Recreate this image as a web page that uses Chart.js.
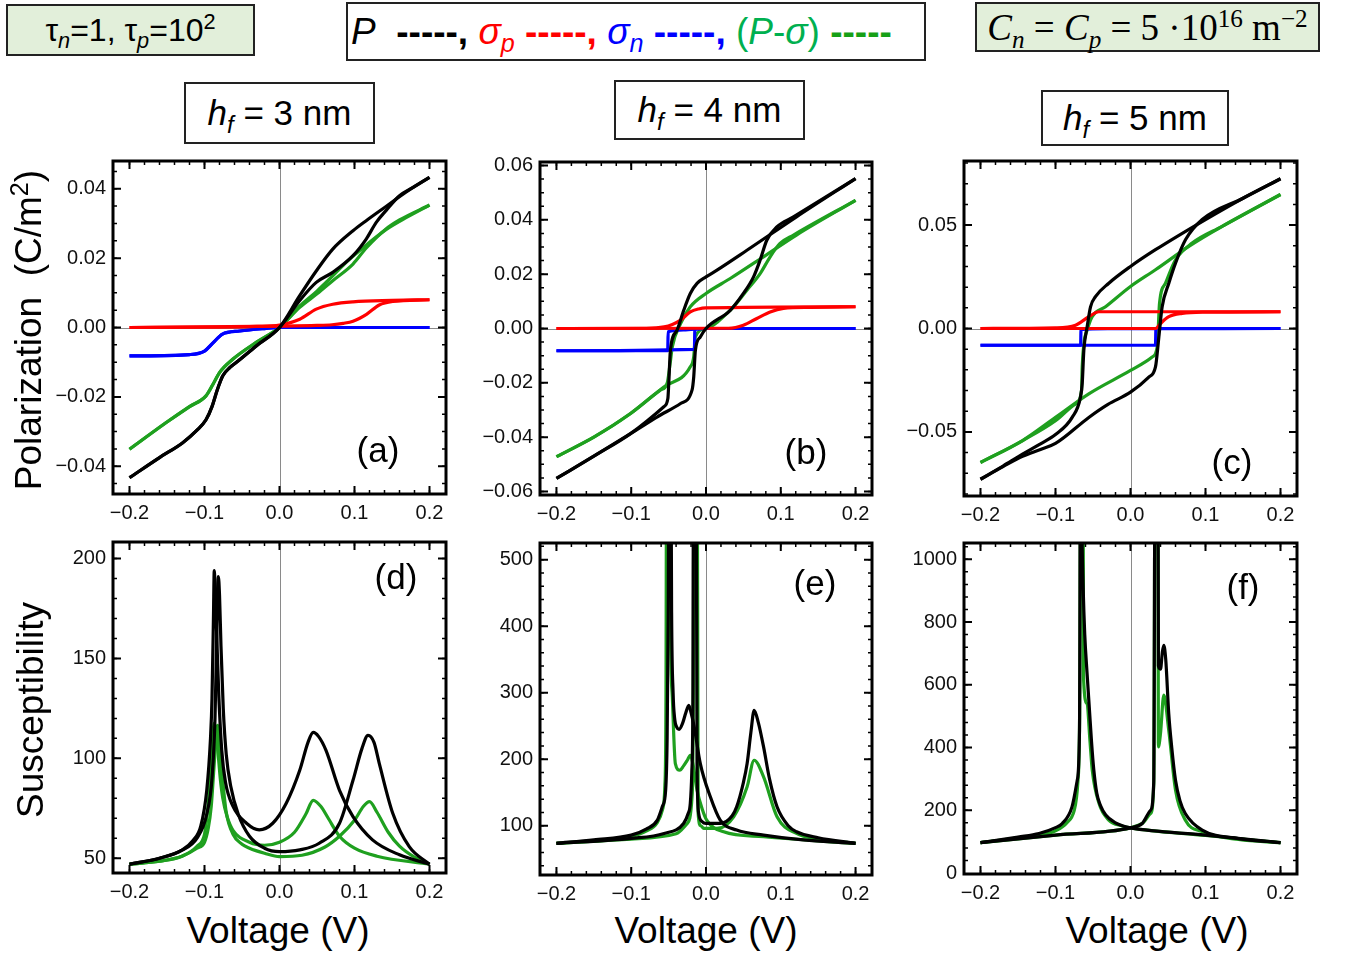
<!DOCTYPE html>
<html>
<head>
<meta charset="utf-8">
<script src="https://cdn.jsdelivr.net/npm/chart.js@4.4.1/dist/chart.umd.min.js"></script>
<style>
  body { margin: 0; background: #fff; }
  #page { position: relative; width: 1347px; height: 955px; overflow: hidden; font-family: "Liberation Sans", Arial, sans-serif; color: #000; }
  canvas { position: absolute; }
  .box { position: absolute; box-sizing: border-box; border: 2px solid #222; display: flex; align-items: center; justify-content: center; white-space: nowrap; }
  .green { background: #e2efda; }
  .t { position: absolute; white-space: nowrap; transform: translate(-50%, -50%); }
  .rot { transform: translate(-50%, -50%) rotate(-90deg); }
  sub, sup { font-size: 0.68em; line-height: 0; }
  i { font-style: italic; }
</style>
</head>
<body>
<div id="page">
  <div class="box green" style="left:6px; top:4px; width:249px; height:52px; font-size:32px;"><span>τ<sub><i>n</i></sub>=1, τ<sub><i>p</i></sub>=10<sup>2</sup></span></div>
  <div class="box" style="left:346px; top:2px; width:580px; height:59px; font-size:37px; justify-content:flex-start; padding-left:3px;">
    <span><i>P</i>&nbsp;&nbsp;<b>-----,</b>&nbsp;<span style="color:#ff0000"><i>σ<sub>p</sub></i> <b>-----,</b></span>&nbsp;<span style="color:#0000ff"><i>σ<sub>n</sub></i> <b>-----,</b></span>&nbsp;<span style="color:#00b050">(<i>P</i>-<i>σ</i>)</span>&nbsp;<b style="color:#16a016">-----</b></span>
  </div>
  <div class="box green" style="left:975px; top:2px; width:345px; height:50px; font-family:'Liberation Serif','DejaVu Serif',serif; font-size:37px;"><span><i>C<sub>n</sub></i>&nbsp;=&nbsp;<i>C<sub>p</sub></i>&nbsp;=&nbsp;5&nbsp;·10<sup>16</sup>&nbsp;m<sup>−2</sup></span></div>

  <div class="box" style="left:184px; top:82px; width:191px; height:62px; font-size:35px;"><span><i>h<sub>f</sub></i>&nbsp;= 3 nm</span></div>
  <div class="box" style="left:614px; top:80px; width:191px; height:60px; font-size:35px;"><span><i>h<sub>f</sub></i>&nbsp;= 4 nm</span></div>
  <div class="box" style="left:1041px; top:90px; width:188px; height:56px; font-size:35px;"><span><i>h<sub>f</sub></i>&nbsp;= 5 nm</span></div>

  <canvas id="pa"></canvas>
  <canvas id="pb"></canvas>
  <canvas id="pc"></canvas>
  <canvas id="pd"></canvas>
  <canvas id="pe"></canvas>
  <canvas id="pf"></canvas>

  <div class="t" style="left:378px; top:450px; font-size:35px;">(a)</div>
  <div class="t" style="left:806px; top:452px; font-size:35px;">(b)</div>
  <div class="t" style="left:1232px; top:462px; font-size:35px;">(c)</div>
  <div class="t" style="left:396px; top:577px; font-size:35px;">(d)</div>
  <div class="t" style="left:815px; top:583px; font-size:35px;">(e)</div>
  <div class="t" style="left:1243px; top:587px; font-size:35px;">(f)</div>

  <div class="t rot" style="left:29px; top:330px; font-size:37px;">Polarization&nbsp;&nbsp;(C/m<sup>2</sup>)</div>
  <div class="t rot" style="left:31px; top:710px; font-size:37px;">Susceptibility</div>
  <div class="t" style="left:278px; top:931px; font-size:37px;">Voltage (V)</div>
  <div class="t" style="left:706px; top:931px; font-size:37px;">Voltage (V)</div>
  <div class="t" style="left:1157px; top:931px; font-size:37px;">Voltage (V)</div>
</div>

<script>
// colours
const cP = '#000000', cSp = '#ff0000', cSn = '#0000ff', cPs = '#1fa01f';

// axes
const xTicks = [-0.2, -0.1, 0, 0.1, 0.2];
const xLabels = ['−0.2', '−0.1', '0.0', '0.1', '0.2'];
const yTicksA = [-0.04, -0.02, 0, 0.02, 0.04];
const yLabelsA = ['−0.04', '−0.02', '0.00', '0.02', '0.04'];
const yTicksB = [-0.06, -0.04, -0.02, 0, 0.02, 0.04, 0.06];
const yLabelsB = ['−0.06', '−0.04', '−0.02', '0.00', '0.02', '0.04', '0.06'];
const yTicksC = [-0.05, 0, 0.05];
const yLabelsC = ['−0.05', '0.00', '0.05'];
const yTicksD = [50, 100, 150, 200];
const yLabelsD = ['50', '100', '150', '200'];
const yTicksE = [100, 200, 300, 400, 500];
const yLabelsE = ['100', '200', '300', '400', '500'];
const yTicksF = [0, 200, 400, 600, 800, 1000];
const yLabelsF = ['0', '200', '400', '600', '800', '1000'];

// (a) hf = 3 nm, polarization [V, C/m2]
const aPdn = [[-0.2,-0.0433],[-0.16,-0.0375],[-0.129,-0.0332],[-0.11,-0.0296],[-0.098,-0.0266],[-0.09,-0.0228],[-0.083,-0.018],[-0.0756,-0.0139],[-0.066,-0.0115],[-0.0578,-0.0101],[-0.031,-0.0053],[0,0],[0.0267,0.0091],[0.049,0.0163],[0.071,0.0226],[0.098,0.0279],[0.1156,0.0308],[0.142,0.0349],[0.169,0.0391],[0.2,0.0433]];
const aPup = [[-0.2,-0.0433],[-0.16,-0.0375],[-0.129,-0.0332],[-0.11,-0.0296],[-0.098,-0.0266],[-0.09,-0.0228],[-0.083,-0.018],[-0.0756,-0.0139],[-0.066,-0.0115],[-0.0578,-0.0101],[-0.031,-0.0053],[0,0],[0.0267,0.0077],[0.049,0.013],[0.071,0.0159],[0.098,0.0207],[0.1156,0.0255],[0.129,0.0303],[0.142,0.0337],[0.16,0.038],[0.178,0.0404],[0.2,0.0433]];
const aSpdn = [[-0.2,0],[-0.1,0.0001],[-0.03,0.0003],[0,0.0007],[0.027,0.0024],[0.049,0.0053],[0.071,0.0067],[0.098,0.0074],[0.15,0.0078],[0.2,0.008]];
const aSpup = [[-0.2,0],[0,0.0004],[0.05,0.0006],[0.07,0.0008],[0.085,0.0012],[0.098,0.0018],[0.116,0.0038],[0.133,0.0065],[0.151,0.0075],[0.2,0.008]];
const aSndn = [[-0.2,-0.0082],[-0.12,-0.0078],[-0.1,-0.0068],[-0.089,-0.0045],[-0.076,-0.0019],[-0.053,-0.001],[-0.02,-0.0003],[0,0],[0.2,0]];
const aSnup = [[-0.2,-0.0082],[-0.12,-0.0078],[-0.1,-0.0068],[-0.089,-0.0045],[-0.076,-0.0019],[-0.053,-0.001],[-0.02,-0.0003],[0,0],[0.2,0]];
const aGdn = [[-0.2,-0.0351],[-0.151,-0.0274],[-0.12,-0.0228],[-0.098,-0.0197],[-0.089,-0.0165],[-0.08,-0.013],[-0.062,-0.0091],[-0.031,-0.0043],[0,0],[0.027,0.0062],[0.05,0.0105],[0.071,0.0149],[0.09,0.019],[0.107,0.0222],[0.142,0.0282],[0.17,0.0318],[0.2,0.0353]];
const aGup = [[-0.2,-0.0351],[-0.151,-0.0274],[-0.12,-0.0228],[-0.098,-0.0197],[-0.089,-0.0165],[-0.08,-0.013],[-0.062,-0.0091],[-0.031,-0.0043],[0,0],[0.027,0.0058],[0.05,0.0097],[0.071,0.0135],[0.098,0.0183],[0.116,0.023],[0.142,0.0284],[0.16,0.031],[0.2,0.0353]];

// (b) hf = 4 nm
const bPdn = [[-0.2,-0.0552],[-0.15,-0.047],[-0.1009,-0.0387],[-0.0564,-0.0288],[-0.051,-0.0258],[-0.0498,-0.0202],[-0.0476,-0.008],[-0.0387,-0.0006],[-0.0298,0.0067],[-0.021,0.0129],[-0.012,0.0166],[0,0.019],[0.0147,0.0215],[0.0547,0.0288],[0.121,0.0411],[0.2,0.0552]];
const bPup = [[-0.2,-0.0552],[-0.15,-0.047],[-0.1009,-0.0387],[-0.065,-0.0325],[-0.034,-0.0276],[-0.0187,-0.0227],[-0.0164,-0.0178],[-0.0142,-0.008],[-0.0076,-0.0031],[0,0],[0.0324,0.0067],[0.05,0.0129],[0.0636,0.019],[0.0724,0.0252],[0.0813,0.0325],[0.0947,0.0374],[0.1169,0.0411],[0.2,0.0552]];
const bSpdn = [[-0.2,0],[-0.08,0.0001],[-0.056,0.0006],[-0.045,0.0015],[-0.034,0.0031],[-0.021,0.0061],[-0.01,0.0072],[0,0.0076],[0.2,0.008]];
const bSpup = [[-0.2,0],[0.03,0.0001],[0.05,0.0012],[0.068,0.0037],[0.0858,0.0061],[0.1036,0.0074],[0.14,0.0078],[0.2,0.008]];
const bSndn = [[-0.2,-0.0082],[-0.0512,-0.0082],[-0.0506,-0.0012],[-0.03,-0.0005],[0,0],[0.2,0]];
const bSnup = [[-0.2,-0.0082],[-0.0155,-0.0077],[-0.0149,-0.0002],[0,0],[0.2,0]];
const bGdn = [[-0.2,-0.0472],[-0.15,-0.04],[-0.1009,-0.0313],[-0.061,-0.0227],[-0.052,-0.0202],[-0.048,-0.0129],[-0.045,-0.0067],[-0.034,0.0018],[-0.021,0.008],[0,0.0129],[0.0324,0.0184],[0.0769,0.0264],[0.121,0.0344],[0.2,0.0472]];
const bGup = [[-0.2,-0.0472],[-0.15,-0.04],[-0.1009,-0.0313],[-0.0564,-0.0215],[-0.021,-0.0141],[-0.0164,-0.0104],[-0.0142,-0.0031],[0,0],[0.0324,0.0067],[0.0547,0.0141],[0.0724,0.0202],[0.0858,0.0264],[0.099,0.0313],[0.117,0.0344],[0.2,0.0472]];

// (c) hf = 5 nm
const cPdn = [[-0.2,-0.0729],[-0.17,-0.0665],[-0.144,-0.0608],[-0.12,-0.0558],[-0.1,-0.0513],[-0.0778,-0.043],[-0.0667,-0.0332],[-0.0644,-0.0267],[-0.0622,-0.0105],[-0.0578,0.0008],[-0.0533,0.0105],[-0.0467,0.0154],[-0.0289,0.0219],[0,0.03],[0.0333,0.0381],[0.1,0.0527],[0.15,0.063],[0.2,0.0724]];
const cPup = [[-0.2,-0.0729],[-0.17,-0.0668],[-0.144,-0.0618],[-0.12,-0.0585],[-0.1,-0.0556],[-0.0556,-0.043],[-0.03,-0.0367],[0,-0.0308],[0.0244,-0.0235],[0.0333,-0.0186],[0.0378,-0.0041],[0.0422,0.0105],[0.0511,0.0219],[0.06,0.0316],[0.0733,0.0429],[0.0956,0.0527],[0.15,0.063],[0.2,0.0724]];
const cSpdn = [[-0.2,0],[-0.1,0.0003],[-0.0733,0.0016],[-0.0556,0.0057],[-0.0422,0.0081],[0.2,0.0081]];
const cSpup = [[-0.2,0],[0.0333,0],[0.04,0.0024],[0.0511,0.0057],[0.0689,0.0073],[0.1,0.0079],[0.2,0.0081]];
const cSndn = [[-0.2,-0.0081],[-0.0665,-0.0081],[-0.066,-0.0005],[-0.03,-0.0001],[0.2,0]];
const cSnup = [[-0.2,-0.0081],[0.0333,-0.0081],[0.0339,0],[0.2,0]];
const cGdn = [[-0.2,-0.0648],[-0.1444,-0.0543],[-0.1,-0.0446],[-0.0733,-0.0365],[-0.0653,-0.03],[-0.0644,-0.0186],[-0.0622,-0.0073],[-0.0578,-0.0008],[-0.0511,0.0057],[-0.0333,0.0105],[0,0.0203],[0.0333,0.0284],[0.0778,0.0397],[0.1222,0.0494],[0.2,0.0648]];
const cGup = [[-0.2,-0.0648],[-0.1444,-0.0543],[-0.1,-0.043],[-0.0556,-0.0316],[0,-0.0203],[0.0289,-0.0138],[0.0356,-0.0089],[0.0369,-0.0008],[0.0387,0.0122],[0.0467,0.0219],[0.06,0.0332],[0.0822,0.0413],[0.1222,0.0494],[0.2,0.0648]];

// (d) hf = 3 nm, susceptibility
const dP1 = [[-0.2,47],[-0.16,50],[-0.13,54],[-0.115,59],[-0.105,66],[-0.097,84],[-0.092,110],[-0.09,130],[-0.088,172],[-0.087,194],[-0.086,187],[-0.084,165],[-0.081,132],[-0.077,104],[-0.072,88],[-0.062,76],[-0.044,67.5],[-0.027,64.2],[-0.009,67.5],[0.009,77.5],[0.027,94],[0.038,108],[0.045,113],[0.052,111],[0.062,104],[0.08,84],[0.098,70.8],[0.124,59.2],[0.16,51.7],[0.2,47]];
const dP2 = [[-0.2,47],[-0.16,50],[-0.13,54],[-0.11,60],[-0.097,72],[-0.09,90],[-0.086,120],[-0.084,155],[-0.0825,185],[-0.0815,191],[-0.08,182],[-0.078,156],[-0.075,125],[-0.071,102],[-0.065,86],[-0.055,72],[-0.04,61],[-0.02,55],[0,53.3],[0.027,54.2],[0.053,57.5],[0.08,67.5],[0.098,89],[0.11,105],[0.118,111.5],[0.126,108],[0.133,97.5],[0.151,72.5],[0.173,55.8],[0.2,47]];
const dG1 = [[-0.2,47],[-0.16,48.5],[-0.13,51],[-0.11,56],[-0.1,62],[-0.097,70],[-0.094,82],[-0.091,97],[-0.089,110],[-0.087,117.5],[-0.085,114],[-0.082,103],[-0.079,90],[-0.0756,80],[-0.07,71],[-0.062,64],[-0.04,58],[-0.02,56.5],[0,58],[0.02,63],[0.035,72],[0.045,79],[0.055,76],[0.065,70],[0.08,61],[0.1,55],[0.13,51],[0.2,47]];
const dG2 = [[-0.2,47],[-0.16,48.5],[-0.13,51],[-0.11,55],[-0.1,58],[-0.095,65],[-0.091,76],[-0.088,92],[-0.085,108],[-0.0825,116.5],[-0.08,106],[-0.0755,88],[-0.071,73],[-0.062,62],[-0.05,57],[-0.04,55],[-0.02,52.5],[0,50.8],[0.03,51.5],[0.06,55.5],[0.08,61],[0.1,69],[0.112,76],[0.12,78.3],[0.13,73],[0.145,63],[0.16,56],[0.18,50.5],[0.2,47]];

// (e) hf = 4 nm
const eP1 = [[-0.2,73.5],[-0.15,79],[-0.1,86],[-0.08,95],[-0.065,108.5],[-0.058,130],[-0.054,153],[-0.052,230],[-0.0505,420],[-0.049,800],[-0.0475,800],[-0.046,420],[-0.044,300],[-0.042,262],[-0.039,248],[-0.036,245],[-0.031,255],[-0.027,270],[-0.023,281],[-0.02,270],[-0.016,250],[-0.0076,193.5],[0.0058,143.5],[0.019,108.5],[0.041,93.5],[0.077,86],[0.12,80],[0.2,73.5]];
const eP2 = [[-0.2,73.5],[-0.1,81],[-0.056,88.5],[-0.03,103.5],[-0.024,118],[-0.021,133.5],[-0.019,180],[-0.0175,293],[-0.0165,800],[-0.0135,800],[-0.012,193],[-0.0098,118.5],[-0.005,106],[0,103.5],[0.019,103.5],[0.035,115],[0.041,128.5],[0.05,165],[0.055,193.5],[0.06,240],[0.0644,273.5],[0.07,255],[0.077,218.5],[0.085,170],[0.095,128.5],[0.11,100],[0.121,91],[0.15,82],[0.2,73.5]];
const eG1 = [[-0.2,73.5],[-0.1,84],[-0.08,92],[-0.065,105],[-0.058,125],[-0.055,160],[-0.0535,300],[-0.0525,800],[-0.049,800],[-0.0475,400],[-0.045,293],[-0.041,193.5],[-0.035,183.5],[-0.03,190],[-0.025,198.5],[-0.021,206],[-0.017,190],[-0.012,153.5],[-0.005,125],[0.001,108.5],[0.0236,91],[0.077,83.5],[0.2,73.5]];
const eG2 = [[-0.2,73.5],[-0.1,80],[-0.04,88],[-0.025,103.5],[-0.0187,143.5],[-0.017,300],[-0.016,800],[-0.012,800],[-0.0105,118.5],[-0.007,100],[-0.003,96],[0.0147,96],[0.037,113.5],[0.055,158.5],[0.0644,198.5],[0.077,173.5],[0.095,113.5],[0.121,88.5],[0.15,80],[0.2,73.5]];

// (f) hf = 5 nm
const fP1 = [[-0.2,97],[-0.15,115],[-0.122,126],[-0.1,145],[-0.091,158],[-0.078,211],[-0.071,296],[-0.068,455],[-0.0665,1500],[-0.0655,1200],[-0.063,900],[-0.061,760],[-0.058,640],[-0.055,530],[-0.052,420],[-0.049,330],[-0.045,255],[-0.04,215],[-0.033,185],[-0.02,160],[-0.01,150],[0,144],[0.1,121],[0.2,97]];
const fP2 = [[-0.2,97],[-0.1,121],[0,144],[0.0156,158],[0.0267,200],[0.031,290],[0.033,1500],[0.0365,1500],[0.0372,660],[0.04,650],[0.0425,705],[0.0444,726],[0.047,680],[0.051,508],[0.055,400],[0.06,296],[0.066,230],[0.073,190],[0.0956,137],[0.144,110],[0.2,97]];
const fG1 = [[-0.2,97],[-0.15,112],[-0.122,120],[-0.1,135],[-0.085,160],[-0.075,200],[-0.07,296],[-0.0675,600],[-0.0665,1500],[-0.0635,1500],[-0.0625,615],[-0.058,540],[-0.054,420],[-0.051,328],[-0.042,222],[-0.029,169],[-0.011,150],[0,144],[0.1,120],[0.2,97]];
const fG2 = [[-0.2,97],[-0.1,121],[0,144],[0.0156,158],[0.0267,190],[0.031,286],[0.033,1500],[0.0365,1500],[0.0372,402],[0.04,445],[0.0444,567],[0.051,455],[0.06,265],[0.073,169],[0.0956,132],[0.144,107],[0.2,97]];

// Mathematica-like frame: inward ticks on all four sides, thin zero lines
const framePlugin = {
    id: 'frame',
    beforeDatasetsDraw(chart) {
        const { ctx, chartArea: a, scales } = chart;
        const o = chart.options.plugins.frame;
        ctx.save();
        ctx.strokeStyle = '#8a8a8a';
        ctx.lineWidth = 1;
        const x0 = Math.round(scales.x.getPixelForValue(0)) + 0.5;
        ctx.beginPath();
        ctx.moveTo(x0, a.top);
        ctx.lineTo(x0, a.bottom);
        if (o.zeroY) {
            const y0 = Math.round(scales.y.getPixelForValue(0)) + 0.5;
            ctx.moveTo(a.left, y0);
            ctx.lineTo(a.right, y0);
        }
        ctx.stroke();
        ctx.restore();
    },
    afterDatasetsDraw(chart) {
        const { ctx, chartArea: a, scales } = chart;
        const o = chart.options.plugins.frame;
        ctx.save();
        ctx.strokeStyle = '#000';

        const minors = (scale, step) => {
            const out = [];
            for (let v = Math.ceil(scale.min / step) * step; v <= scale.max; v += step) out.push(v);
            return out;
        };
        const xTick = (v, len) => {
            const px = scales.x.getPixelForValue(v);
            if (px < a.left + 2 || px > a.right - 2) return;
            ctx.moveTo(px, a.bottom); ctx.lineTo(px, a.bottom - len);
            ctx.moveTo(px, a.top); ctx.lineTo(px, a.top + len);
        };
        const yTick = (v, len) => {
            const py = scales.y.getPixelForValue(v);
            if (py < a.top + 2 || py > a.bottom - 2) return;
            ctx.moveTo(a.left, py); ctx.lineTo(a.left + len, py);
            ctx.moveTo(a.right, py); ctx.lineTo(a.right - len, py);
        };

        ctx.lineWidth = 1.5;
        ctx.beginPath();
        minors(scales.x, 0.02).forEach(v => xTick(v, 4));
        minors(scales.y, o.yMinor).forEach(v => yTick(v, 4));
        ctx.stroke();

        ctx.lineWidth = 2;
        ctx.beginPath();
        xTicks.forEach(v => xTick(v, 8));
        o.yMajor.forEach(v => yTick(v, 8));
        ctx.stroke();

        ctx.lineWidth = 3;
        ctx.strokeRect(a.left, a.top, a.right - a.left, a.bottom - a.top);
        ctx.restore();
    }
};

function line(pts, color) {
    return {
        data: pts.map(p => ({ x: p[0], y: p[1] })),
        showLine: true,
        borderColor: color,
        borderWidth: 3.2,
        pointRadius: 0,
        fill: false,
        cubicInterpolationMode: 'monotone',
        clip: 0
    };
}

function makePanel(id, left, top, w, h, yMin, yMax, yMajor, yLabels, yMinor, zeroY, datasets) {
    const padL = 80, padT = 12, padR = 20, padB = 30;
    const cv = document.getElementById(id);
    cv.width = padL + w + padR;
    cv.height = padT + h + padB;

    const chart = new Chart(cv.getContext('2d'), {
        type: 'scatter',
        data: { datasets: datasets },
        plugins: [framePlugin],
        options: {
            responsive: false,
            maintainAspectRatio: false,
            animation: false,
            events: [],
            layout: { padding: { top: padT, right: padR, left: 0, bottom: 0 } },
            plugins: {
                legend: { display: false },
                tooltip: { enabled: false },
                frame: { yMajor: yMajor, yMinor: yMinor, zeroY: zeroY }
            },
            scales: {
                x: {
                    type: 'linear',
                    min: -0.222,
                    max: 0.222,
                    grid: { display: false, drawTicks: false },
                    border: { display: false },
                    afterBuildTicks: s => { s.ticks = xTicks.map(v => ({ value: v })); },
                    afterFit: s => { s.height = padB; },
                    ticks: {
                        autoSkip: false,
                        maxRotation: 0,
                        padding: 7,
                        color: '#111',
                        font: { family: 'Liberation Sans', size: 20 },
                        callback: (v, i) => xLabels[i]
                    }
                },
                y: {
                    type: 'linear',
                    min: yMin,
                    max: yMax,
                    grid: { display: false, drawTicks: false },
                    border: { display: false },
                    afterBuildTicks: s => { s.ticks = yMajor.map(v => ({ value: v })); },
                    afterFit: s => { s.width = padL; },
                    ticks: {
                        autoSkip: false,
                        padding: 7,
                        color: '#111',
                        font: { family: 'Liberation Sans', size: 20 },
                        callback: (v, i) => yLabels[i]
                    }
                }
            }
        }
    });

    // grow the canvas so the plot box gets exactly w x h, then place it
    let a = chart.chartArea;
    const dw = w - (a.right - a.left), dh = h - (a.bottom - a.top);
    if (dw || dh) {
        chart.resize(cv.width + dw, cv.height + dh);
        a = chart.chartArea;
    }
    cv.style.left = (left - a.left) + 'px';
    cv.style.top = (top - a.top) + 'px';
}

// Top row: polarization
makePanel('pa', 113, 161, 333, 333, -0.048, 0.048, yTicksA, yLabelsA, 0.005, true,
    [line(aPdn, cP), line(aPup, cP), line(aSpdn, cSp), line(aSpup, cSp), line(aSndn, cSn), line(aSnup, cSn), line(aGdn, cPs), line(aGup, cPs)]);
makePanel('pb', 540, 162, 332, 333, -0.0613, 0.0613, yTicksB, yLabelsB, 0.005, true,
    [line(bPdn, cP), line(bPup, cP), line(bSpdn, cSp), line(bSpup, cSp), line(bSndn, cSn), line(bSnup, cSn), line(bGdn, cPs), line(bGup, cPs)]);
makePanel('pc', 964, 161, 333, 335, -0.081, 0.081, yTicksC, yLabelsC, 0.01, true,
    [line(cPdn, cP), line(cPup, cP), line(cSpdn, cSp), line(cSpup, cSp), line(cSndn, cSn), line(cSnup, cSn), line(cGdn, cPs), line(cGup, cPs)]);

// Bottom row: susceptibility
makePanel('pd', 113, 542, 333, 331, 42.6, 208.3, yTicksD, yLabelsD, 10, false,
    [line(dP1, cP), line(dP2, cP), line(dG1, cPs), line(dG2, cPs)]);
makePanel('pe', 540, 543, 332, 332, 26, 525, yTicksE, yLabelsE, 20, false,
    [line(eP1, cP), line(eP2, cP), line(eG1, cPs), line(eG2, cPs)]);
makePanel('pf', 964, 543, 333, 331, -3, 1052, yTicksF, yLabelsF, 40, false,
    [line(fP1, cP), line(fP2, cP), line(fG1, cPs), line(fG2, cPs)]);
</script>
</body>
</html>
